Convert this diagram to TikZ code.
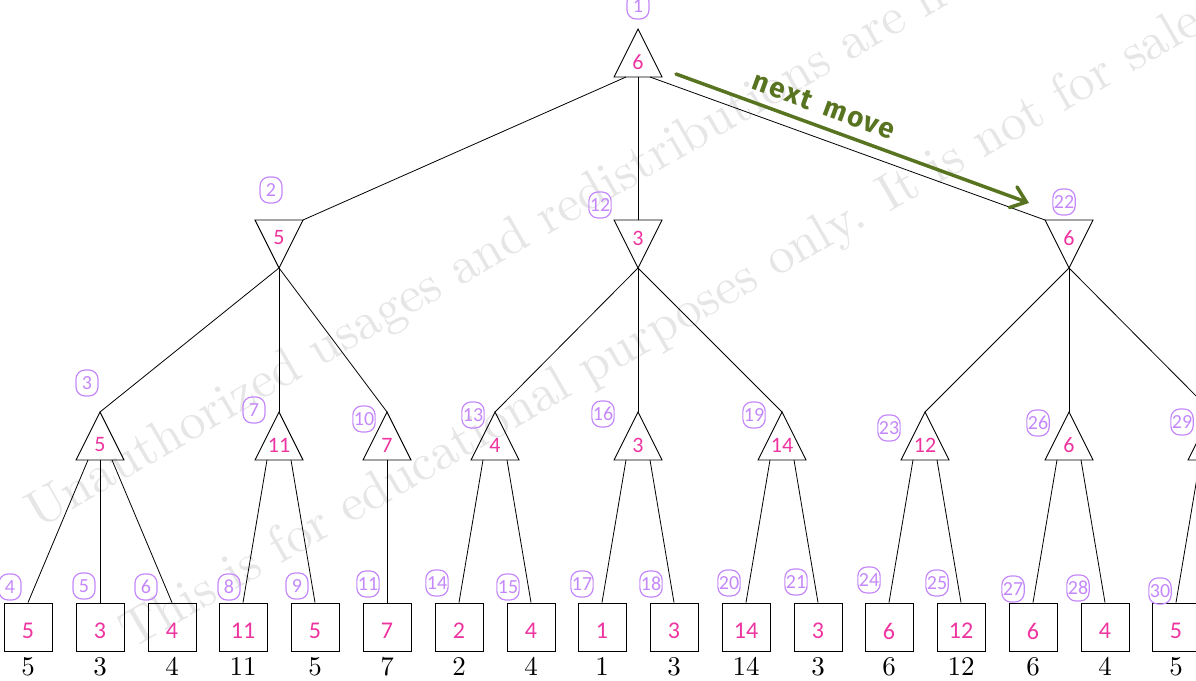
\documentclass[tikz,border=0pt]{standalone}
\usepackage{fontspec}
\newfontfamily\hand{Carlito}
\newfontfamily\handb{Fira Sans}
\newfontfamily\lmten{lmroman10-regular.otf}
\usetikzlibrary{arrows.meta}
\definecolor{pinkv}{RGB}{238,52,160}
\definecolor{lav}{RGB}{196,136,250}
\definecolor{olivegreen}{RGB}{88,116,32}
\definecolor{wmgray}{RGB}{230,230,230}
\newcommand\MaxTri[4]{%
  \coordinate (#1) at (#2,#3);
  \coordinate (#1-b) at (#2,#3+48);
  \coordinate (#1-bl) at (#2-12,#3+48);
  \coordinate (#1-br) at (#2+12,#3+48);
  \draw[shapeline] (#1) -- (#2+24,#3+48) -- (#2-24,#3+48) -- cycle;
  \node[tval] (#1-v) at (#2,#3+33) {#4};
}
\newcommand\MinTri[4]{%
  \coordinate (#1) at (#2,#3);
  \coordinate (#1-t) at (#2,#3-48);
  \coordinate (#1-tl) at (#2-24,#3-48);
  \coordinate (#1-tr) at (#2+24,#3-48);
  \draw[shapeline] (#1) -- (#1-tl) -- (#1-tr) -- cycle;
  \node[tval] (#1-v) at (#2,#3-30) {#4};
}
\newcommand\Leaf[3]{%
  \node[leafbox] (#1) at (#2,627) {};
  \node[lval] (#1-v) at (#2,631) {#3};
  \node[score] (#1-s) at (#2,675) {#3};
}
\begin{document}
\begin{tikzpicture}[x=1pt,y=-1pt,
  edge/.style={line width=0.8pt},
  shapeline/.style={line width=0.9pt,line join=miter},
  leafbox/.style={draw,line width=0.9pt,minimum size=48pt,inner sep=0pt},
  tval/.style={text=pinkv,font=\hand\fontsize{22}{22}\selectfont,inner sep=0pt},
  lval/.style={text=pinkv,font=\hand\fontsize{24}{24}\selectfont,inner sep=0pt},
  idx/.style={draw=lav,text=lav,line width=1.2pt,rounded corners=9pt,minimum width=22pt,minimum height=26pt,inner sep=1pt,font=\hand\fontsize{20}{20}\selectfont},
  score/.style={font=\lmten\fontsize{27}{27}\selectfont,anchor=base,inner sep=0pt},
  wmark/.style={text=wmgray,anchor=base west,rotate=30,inner sep=0pt,font=\lmten\fontsize{52}{52}\selectfont},
  movearrow/.style={draw=olivegreen,line width=3.5pt,line cap=round,-{Straight Barb[length=14pt,width=22pt,line cap=round]}},
  movetext/.style={text=olivegreen,font=\handb\bfseries\fontsize{28}{28}\selectfont\addfontfeatures{LetterSpace=6},rotate=-20,inner sep=0pt}
]
\useasboundingbox (0,0) rectangle (1196,680);
\clip (0,0) rectangle (1196,680);

% watermark
\node[wmark] (w1) at (38,530) {Unauthorized usages and redistributions are not};
\node[wmark] (w2) at (132,650) {This is for educational purposes only. It is not for sale};

% tree nodes
\MaxTri{n1}{638}{29}{6}
\MinTri{n2}{279}{268}{5}
\MinTri{n12}{638}{268}{3}
\MinTri{n22}{1069}{268}{6}
\MaxTri{n3}{100}{412}{5}
\MaxTri{n7}{279}{412}{11}
\MaxTri{n10}{387}{412}{7}
\MaxTri{n13}{495}{412}{4}
\MaxTri{n16}{638}{412}{3}
\MaxTri{n19}{782}{412}{14}
\MaxTri{n23}{925}{412}{12}
\MaxTri{n26}{1069}{412}{6}
\MaxTri{n29}{1212}{412}{}
\Leaf{n4}{28}{5}
\Leaf{n5}{100}{3}
\Leaf{n6}{172}{4}
\Leaf{n8}{243}{11}
\Leaf{n9}{315}{5}
\Leaf{n11}{387}{7}
\Leaf{n14}{459}{2}
\Leaf{n15}{531}{4}
\Leaf{n17}{602}{1}
\Leaf{n18}{674}{3}
\Leaf{n20}{746}{14}
\Leaf{n21}{818}{3}
\Leaf{n24}{889}{6}
\Leaf{n25}{961}{12}
\Leaf{n27}{1033}{6}
\Leaf{n28}{1105}{4}
\Leaf{n30}{1176}{5}

% edges
\draw[edge] (n1-bl) -- (n2-tr);
\draw[edge] (n1-b) -- (n12-t);
\draw[edge] (n1-br) -- (n22-tl);
\draw[edge] (n2) -- (n3);
\draw[edge] (n2) -- (n7);
\draw[edge] (n2) -- (n10);
\draw[edge] (n12) -- (n13);
\draw[edge] (n12) -- (n16);
\draw[edge] (n12) -- (n19);
\draw[edge] (n22) -- (n23);
\draw[edge] (n22) -- (n26);
\draw[edge] (n22) -- (n29);
\draw[edge] (n3-bl) -- (n4.north);
\draw[edge] (n3-b) -- (n5.north);
\draw[edge] (n3-br) -- (n6.north);
\draw[edge] (n7-bl) -- (n8.north);
\draw[edge] (n7-br) -- (n9.north);
\draw[edge] (n10-b) -- (n11.north);
\draw[edge] (n13-bl) -- (n14.north);
\draw[edge] (n13-br) -- (n15.north);
\draw[edge] (n16-bl) -- (n17.north);
\draw[edge] (n16-br) -- (n18.north);
\draw[edge] (n19-bl) -- (n20.north);
\draw[edge] (n19-br) -- (n21.north);
\draw[edge] (n23-bl) -- (n24.north);
\draw[edge] (n23-br) -- (n25.north);
\draw[edge] (n26-bl) -- (n27.north);
\draw[edge] (n26-br) -- (n28.north);
\draw[edge] (n29-bl) -- (n30.north);

% index labels
\node[idx] (i1) at (638,6) {1};
\node[idx] (i2) at (271,190) {2};
\node[idx] (i12) at (600,205) {12};
\node[idx] (i22) at (1064,202) {22};
\node[idx] (i3) at (87,383) {3};
\node[idx] (i7) at (254,410) {7};
\node[idx] (i10) at (364,419) {10};
\node[idx] (i13) at (473,415) {13};
\node[idx] (i16) at (603,414) {16};
\node[idx] (i19) at (754,415) {19};
\node[idx] (i23) at (889,428) {23};
\node[idx] (i26) at (1038,423) {26};
\node[idx] (i29) at (1182,422) {29};
\node[idx] (i4) at (10,587) {4};
\node[idx] (i5) at (84,586) {5};
\node[idx] (i6) at (146,587) {6};
\node[idx] (i8) at (229,587) {8};
\node[idx] (i9) at (297,586) {9};
\node[idx] (i11) at (368,584) {11};
\node[idx] (i14) at (437,583) {14};
\node[idx] (i15) at (508,587) {15};
\node[idx] (i17) at (582,584) {17};
\node[idx] (i18) at (651,584) {18};
\node[idx] (i20) at (729,583) {20};
\node[idx] (i21) at (796,582) {21};
\node[idx] (i24) at (869,580) {24};
\node[idx] (i25) at (937,583) {25};
\node[idx] (i27) at (1013,589) {27};
\node[idx] (i28) at (1078,588) {28};
\node[idx] (i30) at (1160,591) {30};

% next move arrow
\coordinate (ms) at (676,74);
\coordinate (me) at (1029,203);
\draw[movearrow] (ms) -- (me);
\node[movetext] (mv) at (824,106) {next\hspace{14pt}move};
\end{tikzpicture}
\end{document}
